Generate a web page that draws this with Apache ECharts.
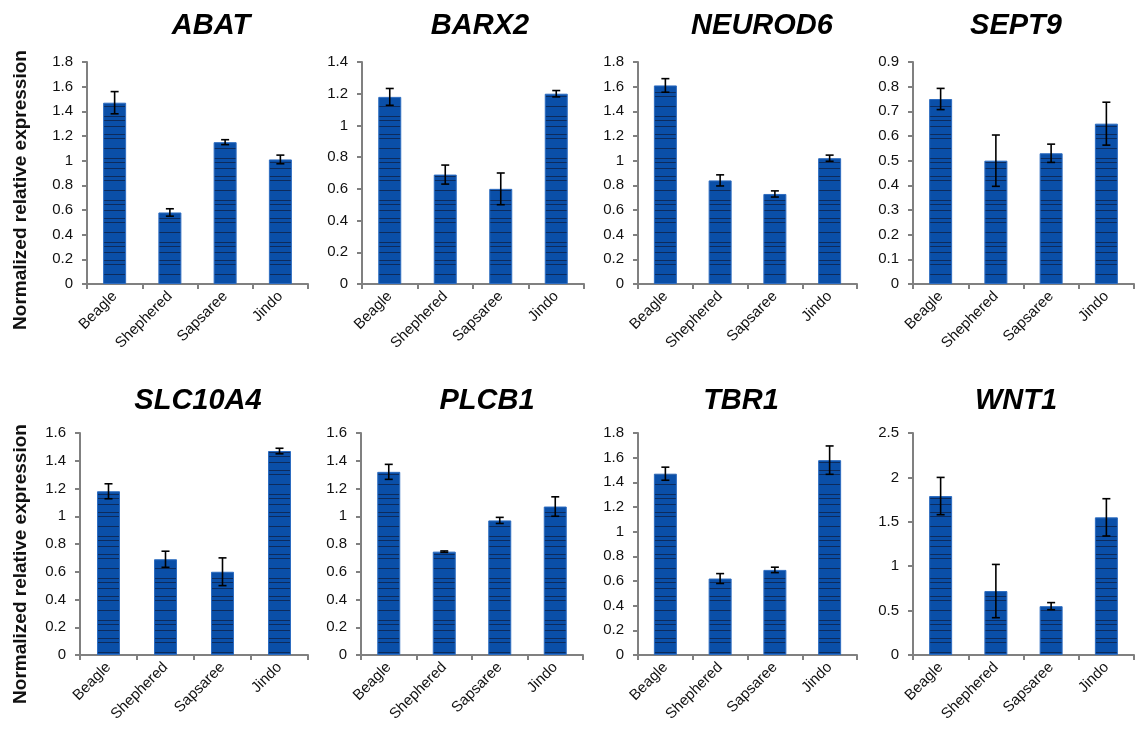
<!DOCTYPE html>
<html>
<head>
<meta charset="utf-8">
<script src="https://cdn.jsdelivr.net/npm/echarts@6/dist/echarts.min.js"></script>
<style>
  html, body { margin: 0; padding: 0; background: #fff; }
  #chart { width: 1136px; height: 733px; }
</style>
</head>
<body>
<div id="chart"></div>
<script>
// ---- data ----
const categories = ['Beagle', 'Shephered', 'Sapsaree', 'Jindo'];
const genes = ['ABAT', 'BARX2', 'NEUROD6', 'SEPT9', 'SLC10A4', 'PLCB1', 'TBR1', 'WNT1'];

const abatMean    = [1.47, 0.58, 1.15, 1.01];
const abatErr     = [0.09, 0.03, 0.02, 0.035];
const barx2Mean   = [1.18, 0.69, 0.60, 1.20];
const barx2Err    = [0.053, 0.06, 0.10, 0.02];
const neurod6Mean = [1.61, 0.84, 0.73, 1.02];
const neurod6Err  = [0.055, 0.045, 0.025, 0.025];
const sept9Mean   = [0.75, 0.50, 0.53, 0.65];
const sept9Err    = [0.043, 0.104, 0.037, 0.087];
const slc10a4Mean = [1.18, 0.69, 0.60, 1.47];
const slc10a4Err  = [0.054, 0.058, 0.10, 0.02];
const plcb1Mean   = [1.32, 0.745, 0.97, 1.07];
const plcb1Err    = [0.054, 0.005, 0.022, 0.07];
const tbr1Mean    = [1.47, 0.62, 0.69, 1.58];
const tbr1Err     = [0.053, 0.04, 0.022, 0.115];
const wnt1Mean    = [1.79, 0.72, 0.55, 1.55];
const wnt1Err     = [0.21, 0.30, 0.04, 0.21];

const yMax      = [1.8, 1.4, 1.8, 0.9, 1.6, 1.6, 1.8, 2.5];
const yInterval = [0.2, 0.2, 0.2, 0.1, 0.2, 0.2, 0.2, 0.5];
const yAxisTitle = 'Normalized relative expression';

const means = [abatMean, barx2Mean, neurod6Mean, sept9Mean, slc10a4Mean, plcb1Mean, tbr1Mean, wnt1Mean];
const errs  = [abatErr, barx2Err, neurod6Err, sept9Err, slc10a4Err, plcb1Err, tbr1Err, wnt1Err];

// ---- layout ----
const grids = [
  { left: 87,  right: 1136 - 308,  top: 62,  bottom: 733 - 284 },
  { left: 362, right: 1136 - 584,  top: 62,  bottom: 733 - 284 },
  { left: 638, right: 1136 - 857,  top: 62,  bottom: 733 - 284 },
  { left: 913, right: 1136 - 1134, top: 62,  bottom: 733 - 284 },
  { left: 80,  right: 1136 - 308,  top: 433, bottom: 733 - 655 },
  { left: 361, right: 1136 - 583,  top: 433, bottom: 733 - 655 },
  { left: 638, right: 1136 - 857,  top: 433, bottom: 733 - 655 },
  { left: 913, right: 1136 - 1134, top: 433, bottom: 733 - 655 }
];
const titlePos = [
  [206, 6], [475, 6], [757, 6], [1011, 6],
  [193, 381], [482, 381], [736, 381], [1011, 381]
];

// ---- striped bar fill ----
const pat = document.createElement('canvas');
pat.width = 4; pat.height = 42;
const pctx = pat.getContext('2d');
pctx.fillStyle = '#0a4fa8';
pctx.fillRect(0, 0, 4, 42);
pctx.fillStyle = '#0d2b5c';
[0, 8, 12, 22, 32, 36].forEach(y => pctx.fillRect(0, y, 4, 1));

const FONT = '"Liberation Sans", Arial, sans-serif';

const option = {
  animation: false,
  backgroundColor: '#ffffff',
  title: genes.map((g, i) => ({
    text: g,
    left: titlePos[i][0],
    top: titlePos[i][1],
    textAlign: 'center',
    textStyle: { fontFamily: FONT, fontSize: 29, fontWeight: 'bold', fontStyle: 'italic', color: '#000' }
  })),
  grid: grids,
  xAxis: grids.map((g, i) => ({
    type: 'category',
    gridIndex: i,
    data: categories,
    axisLine: { lineStyle: { color: '#808080', width: 2 } },
    axisTick: { show: true, length: 5, lineStyle: { color: '#808080', width: 2 } },
    axisLabel: { rotate: 45, margin: 10, fontFamily: FONT, fontSize: 15, color: '#111', interval: 0 }
  })),
  yAxis: grids.map((g, i) => ({
    type: 'value',
    gridIndex: i,
    min: 0,
    max: yMax[i],
    interval: yInterval[i],
    splitLine: { show: false },
    axisLine: { show: true, lineStyle: { color: '#808080', width: 2 } },
    axisTick: { show: true, length: 5, lineStyle: { color: '#808080', width: 2 } },
    axisLabel: { margin: 14, fontFamily: FONT, fontSize: 15, color: '#111' }
  })),
  graphic: [
    { type: 'text', x: 21, y: 190, rotation: Math.PI / 2,
      style: { text: yAxisTitle, font: 'bold 19px ' + FONT, fill: '#111', align: 'center', verticalAlign: 'middle' } },
    { type: 'text', x: 21, y: 564, rotation: Math.PI / 2,
      style: { text: yAxisTitle, font: 'bold 19px ' + FONT, fill: '#111', align: 'center', verticalAlign: 'middle' } }
  ],
  series: []
};

genes.forEach((g, i) => {
  option.series.push({
    type: 'bar',
    name: g,
    xAxisIndex: i,
    yAxisIndex: i,
    barWidth: 23,
    data: means[i],
    itemStyle: { color: { image: pat, repeat: 'repeat' }, borderColor: '#2d6cc0', borderWidth: 1 },
    z: 2
  });
  option.series.push({
    type: 'custom',
    name: g + ' error',
    xAxisIndex: i,
    yAxisIndex: i,
    z: 5,
    data: means[i].map((m, k) => [k, m, errs[i][k]]),
    renderItem: function (params, api) {
      const idx = api.value(0), m = api.value(1), e = api.value(2);
      const top = api.coord([idx, m + e]);
      const bot = api.coord([idx, m - e]);
      const hw = 4;
      const st = { stroke: '#000', lineWidth: 1.6 };
      return {
        type: 'group',
        children: [
          { type: 'line', shape: { x1: top[0], y1: top[1], x2: bot[0], y2: bot[1] }, style: st },
          { type: 'line', shape: { x1: top[0] - hw, y1: top[1], x2: top[0] + hw, y2: top[1] }, style: st },
          { type: 'line', shape: { x1: bot[0] - hw, y1: bot[1], x2: bot[0] + hw, y2: bot[1] }, style: st }
        ]
      };
    }
  });
});

const chart = echarts.init(document.getElementById('chart'));
chart.setOption(option);
</script>
</body>
</html>
